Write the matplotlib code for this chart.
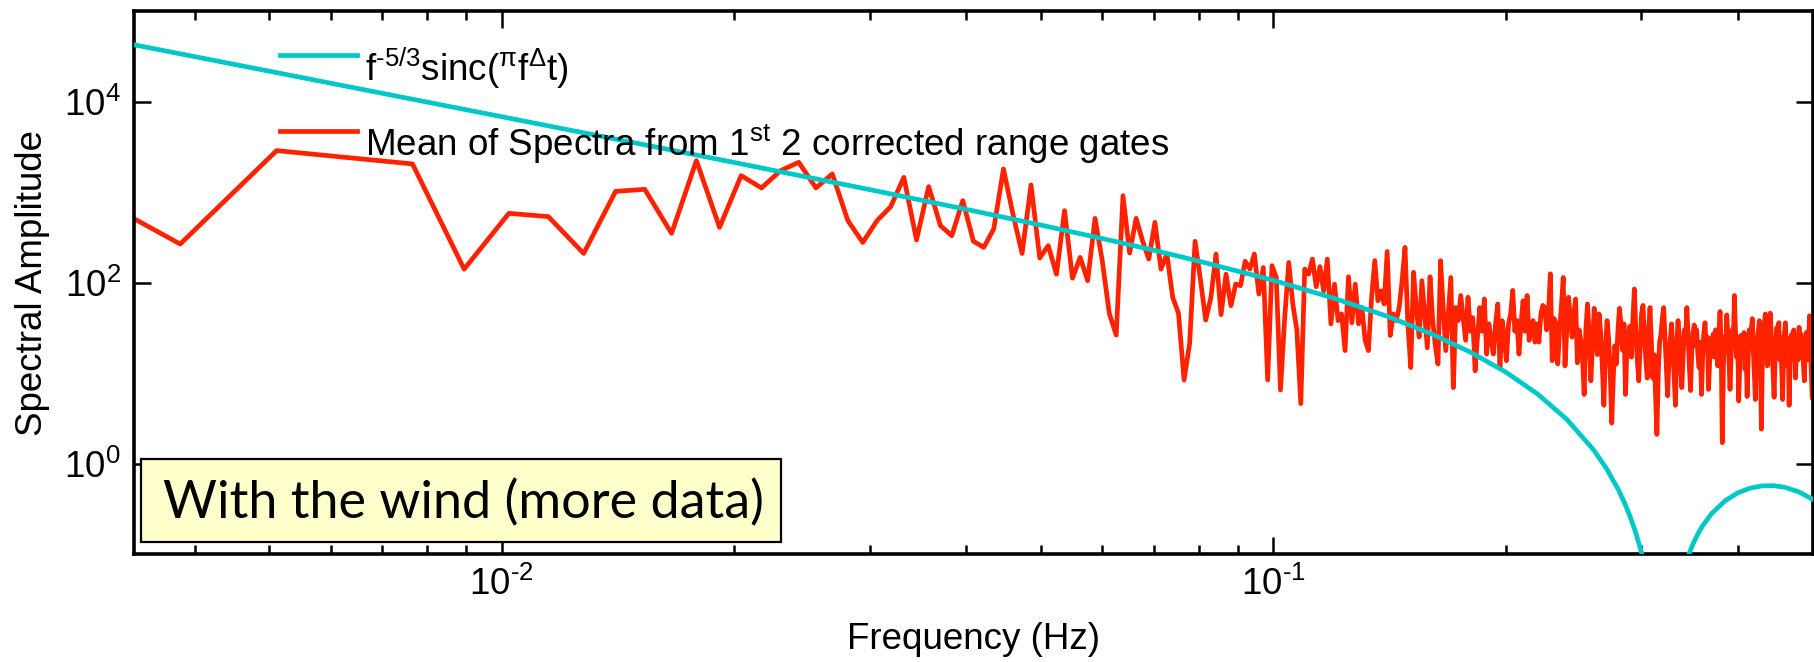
import numpy as np
import matplotlib
matplotlib.use("Agg")
import matplotlib.pyplot as plt
from matplotlib.patches import Rectangle
from matplotlib.ticker import FixedLocator, NullFormatter, NullLocator

plt.rcParams['font.family'] = ['Liberation Sans', 'DejaVu Sans']
plt.rcParams['mathtext.fontset'] = 'custom'
plt.rcParams['mathtext.rm'] = 'Liberation Sans'
plt.rcParams['mathtext.it'] = 'Liberation Sans'
plt.rcParams['mathtext.bf'] = 'Liberation Sans:bold'
plt.rcParams['mathtext.default'] = 'regular'

# ---------------- data ----------------
# frequency resolution of the spectrum (Hz) and index of first plotted bin
bin_width = 0.001277
first_bin = 2

# mean spectral amplitude, one value per frequency bin (bins 2 .. 391)
spectrum_mean = [
    1775, 267, 2877, 2390, 2050, 141, 583, 536, 210, 1020,
    1074, 350, 2230, 408, 1523, 1113, 1730, 2137, 1113, 1589,
    484, 278, 484, 691, 1459, 296, 1151, 426, 330, 805,
    286, 245, 392, 1803, 574, 210, 1202, 187, 256, 124,
    624, 112, 190, 105, 513, 175, 45.6, 26.3, 914, 212,
    513, 291, 182, 463, 141, 207, 68.5, 46.1, 8.4, 21.2,
    286, 108, 38.5, 68.5, 207, 44.2, 124, 55.6, 96.4, 92.5,
    172, 141, 207, 74.8, 147, 8.4, 154, 114, 6.5, 40,
    167, 58, 30, 4.6, 141, 124, 182, 90, 150, 81,
    182, 35, 96, 38, 45, 17.7, 116, 36, 96, 35,
    53, 23, 17.7, 69, 175, 63, 81, 58, 221, 26,
    45, 38, 53, 105, 245, 35, 11.5, 130, 53, 25,
    105, 45, 19, 116, 38, 20, 12.6, 175, 53, 17.7,
    45, 114, 6.9, 53, 38, 72, 41, 23, 69, 29,
    41, 10.6, 25, 53, 29, 66, 16.2, 35, 23, 16.2,
    35, 58, 11.5, 38, 25, 13.7, 35, 45, 82, 29,
    38, 16.2, 35, 63, 29, 72, 23, 32, 38, 22,
    35, 22, 45, 56, 53, 30, 45, 125, 13.7, 40,
    35, 12.6, 30, 55, 114, 12, 30, 69, 40, 25,
    45, 66, 13, 30, 23, 15, 5.8, 30, 58, 25,
    8.2, 20, 52, 30, 16, 45, 28, 12, 4.4, 18,
    38, 24, 10, 2.8, 9, 20, 12.6, 30, 52, 35,
    18, 35, 5.8, 20, 28, 33, 15, 40, 85, 30,
    14, 8.2, 20, 45, 56, 25, 14, 8.8, 30, 53,
    22, 8.8, 16, 6, 2.1, 10, 22, 27, 40, 53,
    25, 12, 5.6, 14, 23, 35, 18, 9, 4.4, 20,
    38, 25, 12, 6.9, 15, 30, 22, 53, 25, 12,
    6.4, 18, 28, 34, 20, 30, 16, 11.5, 22, 5.8,
    15, 28, 36, 18, 25, 6.6, 14, 24, 19, 27,
    15, 30, 22, 12, 28, 48, 20, 1.7, 12, 25,
    18, 44, 26, 14, 6.6, 16, 30, 22, 72, 30,
    15, 25, 4.9, 12, 26, 20, 16.2, 28, 11, 20,
    5.5, 14, 30, 22, 29, 40, 18, 10, 5.1, 16,
    24, 30, 38, 12, 2.4, 14, 25, 35, 45, 24,
    12, 30, 20, 46, 28, 16, 10, 5.4, 14, 24,
    32, 20, 36, 14, 25, 11, 5.1, 15, 28, 36,
    20, 12, 24, 4.4, 12, 20, 27, 16, 30, 22,
    8.8, 18, 26, 14, 32, 20, 27, 15, 24, 12,
    8.2, 18, 28, 19, 14, 26, 43, 20, 10, 5.4,
]

# model curve f^-5/3 sinc(...)
model_freq = [0.00333, 0.005, 0.0075, 0.01, 0.015, 0.02, 0.03, 0.04, 0.05,
              0.06, 0.07, 0.08, 0.1, 0.12, 0.14, 0.16, 0.18, 0.2, 0.22, 0.24,
              0.26, 0.27, 0.28, 0.285, 0.29, 0.295, 0.30, 0.31, 0.33, 0.34,
              0.345, 0.35, 0.355, 0.36, 0.37, 0.385, 0.40, 0.415, 0.43,
              0.445, 0.46, 0.48, 0.5]
model_amp = [42700, 21700, 11030, 6820, 3456, 2129, 1065, 645, 432,
             307, 228, 173, 106, 66.9, 42.9, 27.3, 17.05, 10.29, 5.87, 3.09,
             1.42, 0.891, 0.514, 0.373, 0.260, 0.171, 0.104, 0.0232, 0.0185, 0.0655,
             0.0964, 0.130, 0.167, 0.2045, 0.2805, 0.387, 0.474, 0.535, 0.566,
             0.569, 0.547, 0.486, 0.403]

x_limits = (1 / 300, 0.5)
y_limits = (0.1, 1e5)
x_major = [0.01, 0.1]
x_major_labels = [r'$10^{\text{-}2}$', r'$10^{\text{-}1}$']
x_minor = [0.004, 0.005, 0.006, 0.007, 0.008, 0.009,
           0.02, 0.03, 0.04, 0.05, 0.06, 0.07, 0.08, 0.09,
           0.2, 0.3, 0.4, 0.5]
y_major = [1, 100, 1e4]
y_major_labels = [r'$10^{0}$', r'$10^{2}$', r'$10^{4}$']

label_model = r'f$^{\text{-}5/3}$sinc($^{\pi}$f$^{\Delta}$t)'
label_mean = r'Mean of Spectra from 1$^{st}$ 2 corrected range gates'
box_text = 'With the wind (more data)'
x_title = 'Frequency (Hz)'
y_title = 'Spectral Amplitude'

# ---------------- drawing ----------------
cyan = '#00C8C8'
red = '#FF2200'

freq = bin_width * np.arange(first_bin, first_bin + len(spectrum_mean))

fig = plt.figure(figsize=(18.15, 6.62), dpi=100)
ax = fig.add_axes([0.0736, 0.16314, 0.9251, 0.81994])

ax.plot(freq, spectrum_mean, color=red, lw=3.4, zorder=2)
ax.plot(model_freq, model_amp, color=cyan, lw=3.4, zorder=3)

ax.set_xscale('log')
ax.set_yscale('log')
ax.set_xlim(*x_limits)
ax.set_ylim(*y_limits)

ax.xaxis.set_major_locator(FixedLocator(x_major))
ax.set_xticklabels(x_major_labels)
ax.xaxis.set_minor_locator(FixedLocator(x_minor))
ax.xaxis.set_minor_formatter(NullFormatter())
ax.yaxis.set_major_locator(FixedLocator(y_major))
ax.set_yticklabels(y_major_labels)
ax.yaxis.set_minor_locator(NullLocator())

ax.tick_params(which='both', direction='in', top=True, right=True,
               labelsize=26.5, width=1.8, color='black')
ax.tick_params(which='major', length=12)
ax.tick_params(which='minor', length=6.5)
ax.tick_params(axis='x', pad=9)
ax.tick_params(axis='y', pad=9)
for s in ax.spines.values():
    s.set_linewidth(2.6)

ax.set_xlabel(x_title, fontsize=26.5)
ax.xaxis.set_label_coords(0.5, -0.126)
ax.xaxis.label.set_va('top')
ax.set_ylabel(y_title, fontsize=26.5)
ax.yaxis.set_label_coords(-0.050, 0.5)

# legend (no frame)
ax.plot([0.0873, 0.1331], [0.9193, 0.9193], transform=ax.transAxes,
        color=cyan, lw=3.4, clip_on=False)
ax.text(0.1379, 0.8714, label_model, transform=ax.transAxes,
        fontsize=26.5, va='baseline', ha='left')
ax.plot([0.0873, 0.1331], [0.7793, 0.7793], transform=ax.transAxes,
        color=red, lw=3.4, clip_on=False)
ax.text(0.1379, 0.7332, label_mean, transform=ax.transAxes,
        fontsize=26.5, va='baseline', ha='left')

# annotation box
ax.add_patch(Rectangle((0.00423, 0.0221), 0.3813, 0.1524, transform=ax.transAxes,
                       facecolor='#FFFFCC', edgecolor='black', lw=1.6, zorder=4))
ax.text(0.01757, 0.0658, box_text, transform=ax.transAxes, fontsize=37.5,
        family='Lato', va='baseline', ha='left', zorder=5)

fig.savefig('out.png', dpi=100)
